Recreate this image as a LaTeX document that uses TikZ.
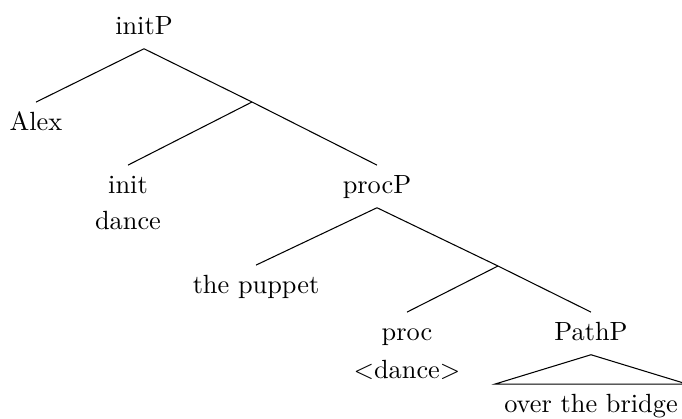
\documentclass[tikz,border=0pt]{standalone}
\usepackage{tikz}
\usetikzlibrary{positioning}

\begin{document}
\begin{tikzpicture}[
    x=0.38pt, y=-0.38pt,
    word/.style={anchor=base, inner sep=3.4pt, text height=7pt, text depth=2pt},
    branch/.style={draw, line width=0.4pt}
]
\useasboundingbox (0,0) rectangle (682,419);

% upper layer
\node[word] (initP) at (144,34) {initP};
\node[word] (alex) at (36,130) {Alex};
\coordinate (initbar) at (252,102);
\node[word] (init) at (128,193) {init};
\node[word] (dance) at (128,229) {dance};
\node[word] (procP) at (377,193) {procP};

\draw[branch] (initP.south) -- (alex.north);
\draw[branch] (initP.south) -- (initbar) -- (procP.north);
\draw[branch] (initbar) -- (init.north);

% lower layer
\node[word] (puppet) at (256,293) {the puppet};
\coordinate (procbar) at (498,266);
\node[word] (proc) at (407,340) {proc};
\node[word] (trace) at (407,378) {$<$dance$>$};
\node[word] (PathP) at (591,340) {PathP};
\node[word] (bridge) at (591,412) {over the bridge};

\draw[branch] (procP.south) -- (puppet.north);
\draw[branch] (procP.south) -- (procbar) -- (PathP.north);
\draw[branch] (procbar) -- (proc.north);

% roof
\draw[branch] (PathP.south) -- (bridge.north west) -- (bridge.north east) -- cycle;

\end{tikzpicture}
\end{document}
